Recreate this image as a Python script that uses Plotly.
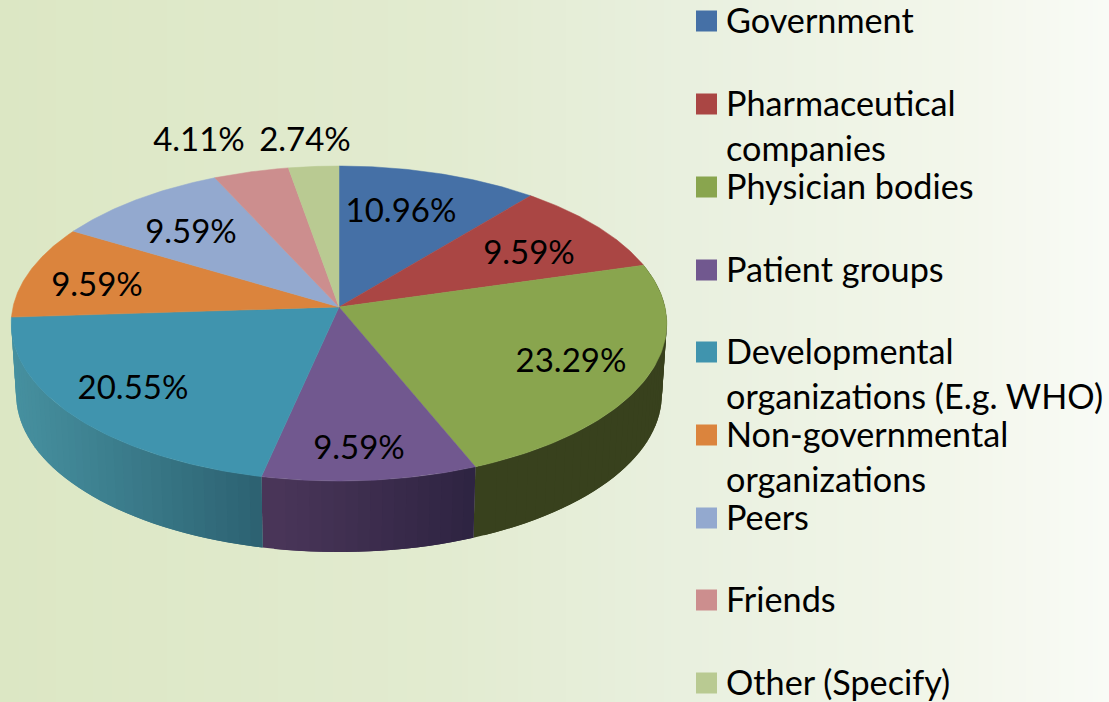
import numpy as np
import plotly.graph_objects as go

categories = ["Government", "Pharmaceutical companies", "Physician bodies", "Patient groups",
              "Developmental organizations (E.g. WHO)", "Non-governmental organizations",
              "Peers", "Friends", "Other (Specify)"]
values = [10.96, 9.59, 23.29, 9.59, 20.55, 9.59, 9.59, 4.11, 2.74]
labels = [f"{v:.2f}%" for v in values]
colors = ["#4570a6", "#aa4644", "#89a54e", "#71588f", "#4094ae", "#db843d", "#93a9cf", "#cc8e8e", "#b9ca92"]
side_left = ["#4570a6", "#aa4644", "#38411d", "#4a3659", "#46909f", "#db843d", "#93a9cf", "#cc8e8e", "#b9ca92"]
side_right = ["#4570a6", "#aa4644", "#38411d", "#2c2240", "#2b5f6f", "#db843d", "#93a9cf", "#cc8e8e", "#b9ca92"]
side_visible = [False, False, True, True, True, False, False, False, False]
label_x = [401, 529, 571, 359, 133, 97, 191, 199, 305]
label_y = [214, 256, 364, 451, 391, 288, 235, 143, 143]
legend_lines = [["Government"], ["Pharmaceutical", "companies"], ["Physician bodies"], ["Patient groups"],
                ["Developmental", "organizations (E.g. WHO)"], ["Non-governmental", "organizations"],
                ["Peers"], ["Friends"], ["Other (Specify)"]]
legend_y = [21, 104, 187, 270, 352, 435, 518, 600, 683]

W, H = 1109, 702
CX, CY, A, B, K = 339, 307, 155.8, 326, 0.105
DEPTH, NARROW = 71, 0.985
FONT = "Lato"
FS = 33
LEGEND_FS = 34.2


def rim(theta, drop=0.0, sx=1.0):
    X, Y = np.sin(theta), np.cos(theta)
    d = 1 + K * Y
    return CX + sx * B * X / d, CY - A * Y / d + drop


def hex2rgb(c):
    return np.array([int(c[i:i + 2], 16) for i in (1, 3, 5)], float)


fig = go.Figure()

# background gradient
gx = np.linspace(0, W, 120)
fig.add_trace(go.Heatmap(x=gx, y=[0, H], z=[gx, gx], zsmooth="best", showscale=False, hoverinfo="skip",
                         colorscale=[[0, "#dce7c4"], [0.4, "#e2ebd0"], [0.62, "#e9f0df"], [0.85, "#f2f6ea"], [1, "#f9fbf6"]]))

edges = np.concatenate([[0], np.cumsum(values)]) / sum(values) * 2 * np.pi

# sides: each band overlaps its neighbour so no seams show
for i in range(len(values)):
    if not side_visible[i]:
        continue
    lo, hi = edges[i], edges[i + 1]
    n = max(2, int((hi - lo) * 30))
    ts = np.linspace(lo, hi, n + 1)
    cl, cr = hex2rgb(side_left[i]), hex2rgb(side_right[i])
    xs0 = rim(ts)[0]
    xmin, xmax = xs0.min(), xs0.max()
    for k in range(n):
        start, end = ts[max(k - 1, 0)], ts[k + 1]
        f = ((rim(ts[k])[0] + rim(end)[0]) / 2 - xmin) / max(xmax - xmin, 1)
        c = cl + (cr - cl) * f
        col = f"rgb({c[0]:.0f},{c[1]:.0f},{c[2]:.0f})"
        tt = np.array([start, end])
        xt, yt = rim(tt)
        xb, yb = rim(tt, DEPTH, NARROW)
        fig.add_trace(go.Scatter(x=[xt[0], xt[1], xb[1], xb[0], xt[0]], y=[yt[0], yt[1], yb[1], yb[0], yt[0]],
                                 mode="lines", fill="toself", fillcolor=col, line=dict(color=col, width=0),
                                 hoverinfo="skip"))

# top faces
for i in range(len(values)):
    ts = np.linspace(edges[i], edges[i + 1], 80)
    xr, yr = rim(ts)
    fig.add_trace(go.Scatter(x=np.r_[CX, xr, CX], y=np.r_[CY, yr, CY], mode="lines", fill="toself",
                             fillcolor=colors[i], line=dict(color=colors[i], width=0.5),
                             name=categories[i], hoverinfo="name"))

# data labels
fig.add_trace(go.Scatter(x=label_x, y=label_y, mode="text", text=labels, textposition="middle center",
                         textfont=dict(family=FONT, size=FS, color="#000000"), hoverinfo="skip"))

# legend
fig.add_trace(go.Scatter(x=[706.5] * len(legend_y), y=legend_y, mode="markers",
                         marker=dict(symbol="square", size=21, color=colors, line=dict(width=0)), hoverinfo="skip"))
for lines, y in zip(legend_lines, legend_y):
    for j, line in enumerate(lines):
        fig.add_annotation(x=727, y=y - 2 + j * 45, text=line, showarrow=False, xanchor="left", yanchor="middle",
                           xshift=-3, font=dict(family=FONT, size=LEGEND_FS, color="#000000"))

fig.update_layout(width=W, height=H, margin=dict(l=0, r=0, t=0, b=0), showlegend=False,
                  paper_bgcolor="#e8efdc", plot_bgcolor="rgba(0,0,0,0)",
                  xaxis=dict(range=[0, W], visible=False, fixedrange=True),
                  yaxis=dict(range=[H, 0], visible=False, fixedrange=True))
fig.write_html("out.html", config={"displayModeBar": False},
               post_script="document.body.style.margin='0';document.body.style.overflow='hidden';")
